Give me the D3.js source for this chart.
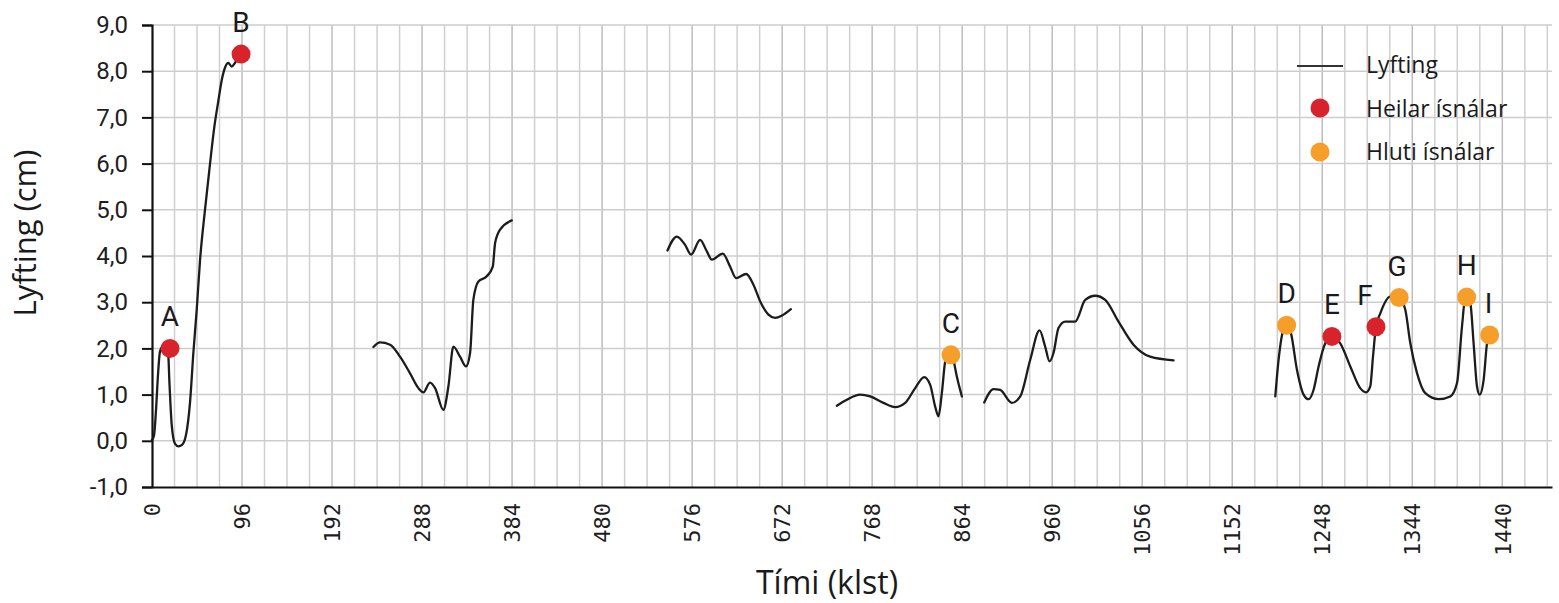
<!DOCTYPE html>
<html>
<head>
<meta charset="utf-8">
<script src="https://cdn.jsdelivr.net/npm/d3@7/dist/d3.min.js"></script>
<style>
  html, body { margin: 0; padding: 0; background: #fff; }
  svg { display: block; }
</style>
</head>
<body>
<svg id="chart" width="1559" height="603"></svg>
<script>
// ---------- DATA ----------
const xTickValues = [0, 96, 192, 288, 384, 480, 576, 672, 768, 864, 960, 1056, 1152, 1248, 1344, 1440];
const yTickValues = [-1, 0, 1, 2, 3, 4, 5, 6, 7, 8, 9];
const yTickLabels = ["-1,0", "0,0", "1,0", "2,0", "3,0", "4,0", "5,0", "6,0", "7,0", "8,0", "9,0"];

// Lyfting (cm) over time (klst), drawn as separate segments
const segment1 = [
  [0, 0.02], [2.1, 0.11], [4.3, 0.67], [6.4, 1.43], [8.5, 1.93], [11.2, 2.03], [14.4, 2.03],
  [17.1, 1.93], [18.7, 1.21], [21.0, 0.35], [24.5, -0.06], [28.3, -0.12], [32, -0.09],
  [36.3, 0.13], [40.5, 0.82], [44.1, 1.90], [47.7, 2.84], [51.2, 3.9], [56.5, 5.0],
  [61.9, 6.0], [66.5, 6.8], [70.7, 7.35], [74.3, 7.8], [77.9, 8.08], [81.4, 8.18],
  [85.0, 8.10], [88.5, 8.18], [91.7, 8.29], [94, 8.35]
];
const segment2 = [
  [236.1, 2.03], [243.2, 2.13], [253.9, 2.08], [264.5, 1.82], [275.2, 1.46], [284.1, 1.14],
  [289.4, 1.05], [296.5, 1.26], [301.9, 1.14], [310.7, 0.67], [316.1, 1.18], [321.4, 2.04],
  [328.5, 1.82], [334.9, 1.61], [339.2, 1.90], [342.7, 3.05], [348.1, 3.45], [357.0, 3.56],
  [363.4, 3.77], [365.9, 4.28], [371.2, 4.57], [383.7, 4.77]
];
const segment3 = [
  [549.7, 4.12], [559.7, 4.42], [568.5, 4.24], [574.9, 4.03], [584.5, 4.35], [591.7, 4.10],
  [597.0, 3.92], [608.7, 4.05], [616.5, 3.77], [622.9, 3.52], [633.6, 3.61], [641.4, 3.38],
  [648.5, 3.02], [657.4, 2.73], [664.5, 2.66], [671.7, 2.71], [681.3, 2.85]
];
const segment4 = [
  [730.3, 0.76], [741.0, 0.89], [755.2, 1.00], [765.9, 0.96], [780.0, 0.82], [792.5, 0.73],
  [803.2, 0.82], [813.9, 1.14], [823.5, 1.38], [829.9, 1.21], [835.2, 0.74], [838.7, 0.53],
  [842.3, 1.03], [845.9, 1.72], [850.5, 1.95], [854.7, 1.75], [858.3, 1.39], [863.7, 0.96]
];
const segment5 = [
  [887.5, 0.83], [897.4, 1.12], [904.5, 1.10], [917.0, 0.82], [925.9, 0.96], [936.5, 1.75],
  [946.5, 2.39], [952.5, 2.04], [957.1, 1.72], [961.4, 1.90], [966.7, 2.44], [973.9, 2.58],
  [984.5, 2.58], [995.2, 3.05], [1005.9, 3.14], [1016.5, 3.05], [1030.7, 2.58], [1046.7, 2.08],
  [1064.5, 1.82], [1089.4, 1.74]
];
const segment6 = [
  [1197.9, 0.96], [1201.4, 1.75], [1206.1, 2.37], [1210.3, 2.50], [1214.6, 2.33], [1221.0, 1.54],
  [1228.1, 1.00], [1233.4, 0.90], [1238.7, 1.10], [1244.1, 1.61], [1251.2, 2.11], [1258.3, 2.26],
  [1267.2, 2.11], [1277.9, 1.61], [1288.5, 1.14], [1294.6, 1.05], [1299.2, 1.18], [1302.1, 1.82],
  [1305.3, 2.47], [1309.9, 2.76], [1320.5, 3.12], [1330.1, 3.10], [1336.5, 2.84], [1341.9, 2.11],
  [1349.0, 1.47], [1357.9, 1.03], [1372.1, 0.90], [1384.5, 0.96], [1391.7, 1.25], [1397.0, 2.47],
  [1400.5, 3.09], [1402.3, 3.11], [1405.9, 2.98], [1409.4, 2.11], [1413.0, 1.18], [1415.8, 1.00],
  [1420.1, 1.32], [1423.7, 2.11], [1426.5, 2.29]
];
const segments = [segment1, segment2, segment3, segment4, segment5, segment6];

// Ice needle events: label, time, lift, type
const pointLabels = ["A", "B", "C", "D", "E", "F", "G", "H", "I"];
const pointTimes  = [19.2, 95, 852, 1210, 1258.3, 1305.3, 1330, 1402, 1426.5];
const pointValues = [2.0, 8.37, 1.86, 2.50, 2.26, 2.47, 3.10, 3.11, 2.29];
const pointTypes  = ["heilar", "heilar", "hluti", "hluti", "heilar", "heilar", "hluti", "hluti", "hluti"];

const legendLabels = ["Lyfting", "Heilar ísnálar", "Hluti ísnálar"];
const xTitle = "Tími (klst)";
const yTitle = "Lyfting (cm)";

// ---------- DRAWING ----------
(function draw() {
const colors = { heilar: "#d8232c", hluti: "#f59e2a" };
const svg = d3.select("#chart");
const pL = 152, pR = 1552, pT = 25, pB = 487;

const x = d3.scaleLinear().domain([0, 1493]).range([pL, pR]);
const y = d3.scaleLinear().domain([-1, 9]).range([pB, pT]);

// grid
const grid = svg.append("g");
grid.selectAll("line.v").data(d3.range(24, 1493, 24)).join("line")
  .attr("x1", d => x(d)).attr("x2", d => x(d))
  .attr("y1", pT).attr("y2", pB)
  .attr("stroke", d => d % 96 === 0 ? "#bdbdbd" : "#d0d0d0")
  .attr("stroke-width", 1.5);
grid.selectAll("line.h").data(yTickValues.slice(1)).join("line")
  .attr("x1", pL).attr("x2", pR)
  .attr("y1", d => y(d)).attr("y2", d => y(d))
  .attr("stroke", "#cdcdcd").attr("stroke-width", 1.5);

// y axis
const yAxis = svg.append("g").attr("transform", `translate(${pL},0)`)
  .call(d3.axisLeft(y).tickValues(yTickValues).tickSize(10).tickPadding(14)
    .tickFormat((d, i) => yTickLabels[i]));
yAxis.select(".domain").attr("stroke", "#111").attr("stroke-width", 2.2);
yAxis.selectAll(".tick line").attr("stroke", "#111").attr("stroke-width", 2);
yAxis.selectAll(".tick text").attr("font-family", "Roboto, sans-serif")
  .attr("font-size", 24).attr("fill", "#1e1e1e");

// x axis
const xAxis = svg.append("g").attr("transform", `translate(0,${pB})`)
  .call(d3.axisBottom(x).tickValues(xTickValues).tickSize(0).tickPadding(0)
    .tickFormat(d3.format("d")));
xAxis.select(".domain").attr("stroke", "#111").attr("stroke-width", 2.2);
xAxis.selectAll(".tick text")
  .attr("font-family", "'DejaVu Sans Mono', monospace")
  .attr("font-size", 22).attr("fill", "#1e1e1e")
  .attr("transform", "rotate(-90)")
  .attr("x", -16).attr("y", 0).attr("dy", "0.35em")
  .attr("text-anchor", "end");

// titles
svg.append("text").text(yTitle)
  .attr("transform", `translate(36,233) rotate(-90)`)
  .attr("text-anchor", "middle")
  .attr("font-family", "'Open Sans', sans-serif").attr("font-size", 31).attr("fill", "#1a1a1a");
svg.append("text").text(xTitle)
  .attr("x", 827).attr("y", 594)
  .attr("text-anchor", "middle")
  .attr("font-family", "'Open Sans', sans-serif").attr("font-size", 32).attr("fill", "#1a1a1a");

// lines
const line = d3.line().x(d => x(d[0])).y(d => y(d[1])).curve(d3.curveMonotoneX);
svg.append("g").selectAll("path").data(segments).join("path")
  .attr("d", line)
  .attr("fill", "none").attr("stroke", "#1c1c1c").attr("stroke-width", 2.3)
  .attr("stroke-linejoin", "round").attr("stroke-linecap", "round");

// points
const pts = pointLabels.map((l, i) => ({ label: l, t: pointTimes[i], v: pointValues[i], type: pointTypes[i] }));
svg.append("g").selectAll("circle").data(pts).join("circle")
  .attr("cx", d => x(d.t)).attr("cy", d => y(d.v)).attr("r", 9.5)
  .attr("fill", d => colors[d.type]);

const labelShift = { F: -11, G: -2, I: -1 };
svg.append("g").selectAll("text").data(pts).join("text")
  .text(d => d.label)
  .attr("x", d => x(d.t) + (labelShift[d.label] || 0))
  .attr("y", d => y(d.v) - 22)
  .attr("text-anchor", "middle")
  .attr("font-family", "Roboto, sans-serif").attr("font-size", 28).attr("fill", "#1a1a1a");

// legend
const lg = svg.append("g");
lg.append("line").attr("x1", 1297).attr("x2", 1343).attr("y1", 66).attr("y2", 66)
  .attr("stroke", "#333").attr("stroke-width", 2);
lg.append("circle").attr("cx", 1320).attr("cy", 108).attr("r", 9.5).attr("fill", colors.heilar);
lg.append("circle").attr("cx", 1320).attr("cy", 152).attr("r", 9.5).attr("fill", colors.hluti);
lg.selectAll("text").data(legendLabels).join("text")
  .text(d => d)
  .attr("x", 1366).attr("y", (d, i) => 65 + i * 43.5)
  .attr("dy", "0.35em")
  .attr("font-family", "'Open Sans', sans-serif").attr("font-size", 23).attr("fill", "#1a1a1a");
})();
</script>
</body>
</html>
